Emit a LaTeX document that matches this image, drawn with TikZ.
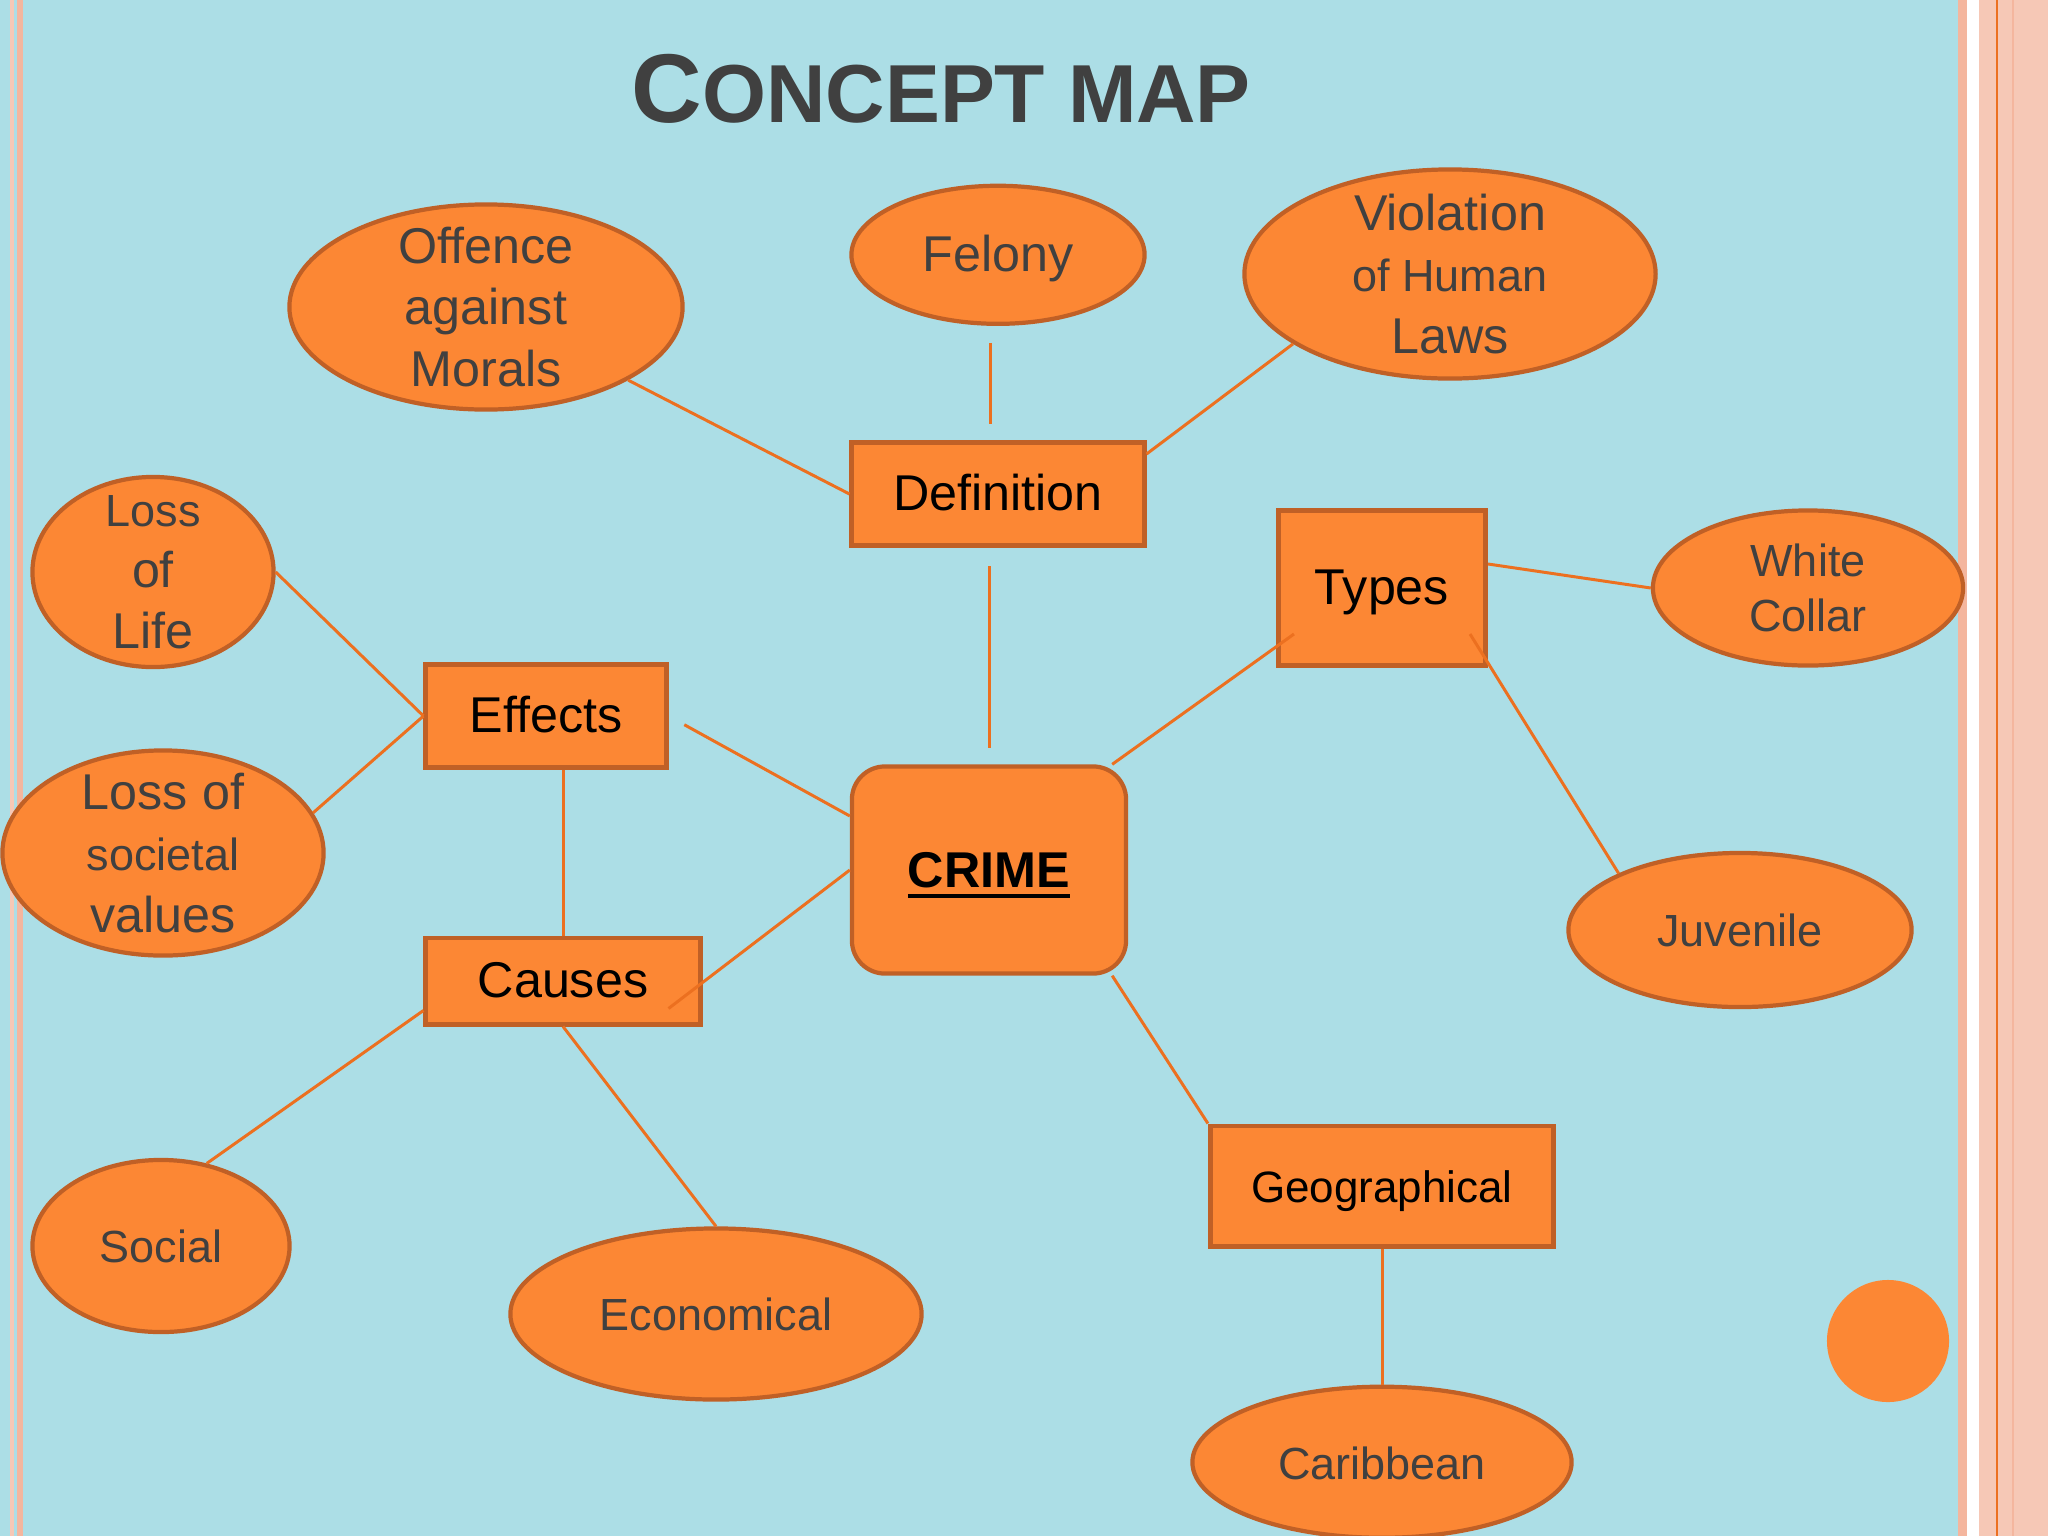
\documentclass[tikz,border=0pt]{standalone}
\usepackage{fontspec}
\setmainfont{Liberation Sans}
\usetikzlibrary{shapes.geometric}
\usetikzlibrary{positioning}

\definecolor{sky}{RGB}{172,222,230}
\definecolor{peach}{RGB}{246,200,182}
\definecolor{peachdark}{RGB}{244,182,158}
\definecolor{fillorange}{RGB}{252,135,52}
\definecolor{edgeorange}{RGB}{192,96,38}
\definecolor{lineorange}{RGB}{236,112,32}
\definecolor{inkgray}{RGB}{64,64,64}

\newcommand{\bigtext}{\fontsize{14.3}{17.4}\selectfont}
\newcommand{\smalltext}{\fontsize{12.8}{17.4}\selectfont}
\newcommand{\crimeline}[1]{\setbox0\hbox{#1}\rlap{\smash{\rule[-3.1pt]{\wd0}{1.1pt}}}\box0}

\begin{document}
\begin{tikzpicture}[x=0.01cm, y=-0.01cm,
    box/.style={draw=edgeorange, fill=fillorange, line width=1.4pt, inner sep=0pt, font=\bigtext, text=black, oneline},
    oval/.style={ellipse, draw=edgeorange, fill=fillorange, line width=1.2pt, inner xsep=0pt, inner ysep=-6pt, align=center, font=\bigtext, text=inkgray},
    oneline/.style={text height=12.5pt, text depth=2.9pt},
    link/.style={lineorange, line width=0.85pt}]
    % slide background
    \useasboundingbox (0,0) rectangle (2048,1536);
    \fill[sky] (0,0) rectangle (1958,1536);
    \fill[peach] (10,0) rectangle (14,1536);
    \fill[peachdark] (17,0) rectangle (23,1536);
    \fill[peachdark] (1958,0) rectangle (1967,1536);
    \fill[peach] (1979,0) rectangle (2048,1536);
    \fill[lineorange] (1996,0) rectangle (1998,1536);
    \draw[peachdark, line width=0.6pt] (2013,0) -- (2013,1536);
    \fill[fillorange] (1888,1341) circle (0.61cm);

    \node[anchor=base west, inner sep=0pt, text=inkgray, font=\bfseries] (title) at (631,122)
      {\fontsize{27.8}{30}\selectfont C\fontsize{23.4}{30}\selectfont ONCEPT MAP};

    \node[box, rounded corners=0.33cm, line width=1.2pt, minimum width=2.74cm, minimum height=2.07cm, text height=, text depth=] (crime) at (989,870) {\textbf{\crimeline{CRIME}}};
    \node[box, minimum width=2.92cm, minimum height=1.03cm] (def) at (998,494) {Definition};
    \node[oval, oneline, minimum width=2.93cm, minimum height=1.38cm, above=1.14cm of def] (fel) {Felony};
    \node[oval, minimum width=3.93cm, minimum height=2.05cm] (off) at (486,307) {Offence\\against\\Morals};
    \node[oval, minimum width=4.11cm, minimum height=2.09cm] (vio) at (1450,274) {Violation\\{\smalltext of Human}\\Laws};

    \node[box, minimum width=2.07cm, minimum height=1.55cm] (types) at (1382,588) {Types};
    \node[oval, minimum width=3.10cm, minimum height=1.55cm, font=\fontsize{12.8}{15.6}\selectfont] (white) at (1808,588) {White\\Collar};
    \node[oval, oneline, minimum width=3.43cm, minimum height=1.54cm, font=\smalltext] (juv) at (1740,930) {Juvenile};

    \node[box, minimum width=2.40cm, minimum height=1.03cm] (eff) at (546,716) {Effects};
    \node[oval, minimum width=2.41cm, minimum height=1.90cm] (life) at (153,572) {{\smalltext Loss}\\of\\Life};
    \node[oval, minimum width=3.21cm, minimum height=2.05cm] (values) at (163,853) {Loss of\\{\smalltext societal}\\values};

    \node[box, minimum width=2.74cm, minimum height=0.86cm] (causes) at (563,981) {Causes};
    \node[oval, oneline, minimum width=2.57cm, minimum height=1.72cm, font=\smalltext] (social) at (161,1246) {Social};
    \node[oval, oneline, minimum width=4.11cm, minimum height=1.71cm, font=\smalltext] (econ) at (716,1314) {Economical};

    \node[box, minimum width=3.43cm, minimum height=1.20cm, font=\fontsize{12.5}{15}\selectfont] (geo) at (1382,1186) {Geographical};
    \node[oval, oneline, minimum width=3.79cm, minimum height=1.51cm, font=\smalltext, below=1.36cm of geo] (carib) {Caribbean};

    % connectors
    \draw[link] (off) -- (def.west);
    \draw[link, shorten <=0.17cm, shorten >=0.16cm] ([shift={(-8,0)}]fel.south) -- ([shift={(-8,0)}]def.north);
    \draw[link] (vio.204) -- ([shift={(0,14)}]def.north east);
    \draw[link, shorten <=0.18cm, shorten >=0.16cm] (def.south -| crime) -- (crime.north);
    \draw[link] ([shift={(-16,0)}]crime.north east) -- ([shift={(18,-34)}]types.south west);
    \draw[link] ([shift={(0,-24)}]types.east) -- (white.west);
    \draw[link] ([shift={(-18,-34)}]types.south east) -- (juv.155);
    \draw[link, shorten <=0.18cm] (eff.east) -- ([shift={(0,-54)}]crime.west);
    \draw[link] (life.east) -- (eff.west);
    \draw[link] (values.15) -- (eff.west);
    \draw[link] (eff.south -| causes) -- (causes.north);
    \draw[link] ([shift={(-34,-18)}]causes.south east) -- (crime.west);
    \draw[link] ([shift={(0,-16)}]causes.south west) -- (social.61);
    \draw[link] (causes.south) -- (econ.north);
    \draw[link] ([shift={(-16,0)}]crime.south east) -- (geo.north west);
    \draw[link] (geo) -- (carib);
\end{tikzpicture}
\end{document}
